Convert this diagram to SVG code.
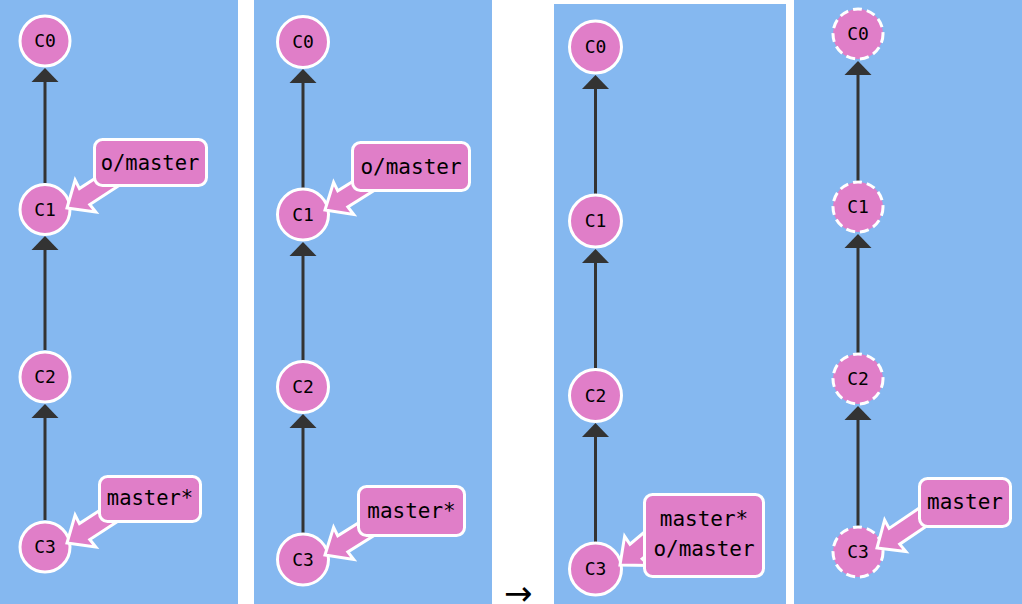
<svg xmlns="http://www.w3.org/2000/svg" xmlns:xlink="http://www.w3.org/1999/xlink" width="1022" height="604" viewBox="0 0 1022 604">
<style>
.panel{fill:#85b8f0}
.node{fill:#e07ec8;stroke:#fff;stroke-width:3}
.ghost{fill:#e07ec8;stroke:#fff;stroke-width:3;stroke-dasharray:9 5}
.nt{font-family:"DejaVu Sans Mono","Liberation Mono",monospace;font-size:18px;fill:#000;text-anchor:middle}
.edge{stroke:#333;stroke-width:3;fill:none}
.head{fill:#333}
.box{fill:#e07ec8;stroke:#fff;stroke-width:3}
.tag{fill:#e07ec8;stroke:#fff;stroke-width:3;stroke-linejoin:miter}
.lt{font-family:"DejaVu Sans Mono","Liberation Mono",monospace;font-size:21px;fill:#000;text-anchor:middle}
.arr{font-family:"DejaVu Sans","Liberation Sans",sans-serif;font-size:34px;fill:#000}
</style>
<defs>
<path id="tagarrow" d="M0,0 L22,-19 L21,-9.5 L75,-9.5 L75,9.5 L21,9.5 L22,19 Z"/>
<path id="ah" d="M0,0 L13.5,14 L-13.5,14 Z"/>
</defs>

<g id="backgrounds">
<rect class="panel" x="0" y="0" width="238" height="604"/>
<rect class="panel" x="254" y="0" width="238" height="604"/>
<rect class="panel" x="554" y="4" width="232" height="600"/>
<rect class="panel" x="794" y="0" width="228" height="604"/>
</g>
<text class="arr" x="504" y="605">→</text>

<g id="connectors">
<!-- panel 1 -->
<line class="edge" x1="45" y1="520" x2="45" y2="410"/>
<use xlink:href="#ah" href="#ah" class="head" transform="translate(45,404)"/>
<line class="edge" x1="45" y1="350" x2="45" y2="242"/>
<use xlink:href="#ah" href="#ah" class="head" transform="translate(45,236)"/>
<line class="edge" x1="45" y1="183" x2="45" y2="74"/>
<use xlink:href="#ah" href="#ah" class="head" transform="translate(45,68)"/>
<!-- panel 2 -->
<line class="edge" x1="303" y1="533" x2="303" y2="420"/>
<use xlink:href="#ah" href="#ah" class="head" transform="translate(303,414)"/>
<line class="edge" x1="303" y1="361" x2="303" y2="248"/>
<use xlink:href="#ah" href="#ah" class="head" transform="translate(303,242)"/>
<line class="edge" x1="303" y1="188" x2="303" y2="75"/>
<use xlink:href="#ah" href="#ah" class="head" transform="translate(303,69)"/>
<!-- panel 3 -->
<line class="edge" x1="595.5" y1="542" x2="595.5" y2="429"/>
<use xlink:href="#ah" href="#ah" class="head" transform="translate(595.5,423)"/>
<line class="edge" x1="595.5" y1="368" x2="595.5" y2="255"/>
<use xlink:href="#ah" href="#ah" class="head" transform="translate(595.5,249)"/>
<line class="edge" x1="595.5" y1="194" x2="595.5" y2="81"/>
<use xlink:href="#ah" href="#ah" class="head" transform="translate(595.5,75)"/>
<!-- panel 4 -->
<line class="edge" x1="858" y1="526" x2="858" y2="412"/>
<use xlink:href="#ah" href="#ah" class="head" transform="translate(858,406)"/>
<line class="edge" x1="858" y1="353" x2="858" y2="240"/>
<use xlink:href="#ah" href="#ah" class="head" transform="translate(858,234)"/>
<line class="edge" x1="858" y1="181" x2="858" y2="67"/>
<use xlink:href="#ah" href="#ah" class="head" transform="translate(858,61)"/>
</g>

<!-- panel 1 nodes -->
<g id="p1-C0"><circle class="node" cx="45" cy="41" r="25"/><text class="nt" x="45" y="47">C0</text></g>
<g id="p1-C1"><circle class="node" cx="45" cy="209.5" r="25"/><text class="nt" x="45" y="215.5">C1</text></g>
<g id="p1-C2"><circle class="node" cx="45" cy="377" r="25"/><text class="nt" x="45" y="383">C2</text></g>
<g id="p1-C3"><circle class="node" cx="45" cy="547" r="25"/><text class="nt" x="45" y="553">C3</text></g>
<g id="p1-omaster">
<use xlink:href="#tagarrow" href="#tagarrow" class="tag" transform="translate(67,208) rotate(-33)"/>
<rect class="box" x="94.5" y="139.5" width="112" height="46" rx="8"/>
<text class="lt" x="150" y="170" style="font-size:20.5px">o/master</text>
</g>
<g id="p1-master">
<use xlink:href="#tagarrow" href="#tagarrow" class="tag" transform="translate(67,543) rotate(-33)"/>
<rect class="box" x="99.5" y="476.5" width="101" height="45" rx="8"/>
<text class="lt" x="150" y="505" style="font-size:20.5px">master*</text>
</g>

<!-- panel 2 nodes -->
<g id="p2-C0"><circle class="node" cx="303" cy="42" r="25.5"/><text class="nt" x="303" y="48">C0</text></g>
<g id="p2-C1"><circle class="node" cx="303" cy="214.5" r="25.5"/><text class="nt" x="303" y="220.5">C1</text></g>
<g id="p2-C2"><circle class="node" cx="303" cy="387" r="25.5"/><text class="nt" x="303" y="393">C2</text></g>
<g id="p2-C3"><circle class="node" cx="303" cy="559.5" r="25.5"/><text class="nt" x="303" y="565.5">C3</text></g>
<g id="p2-omaster">
<use xlink:href="#tagarrow" href="#tagarrow" class="tag" transform="translate(325,210) rotate(-32)"/>
<rect class="box" x="352.5" y="142.5" width="117" height="48" rx="8"/>
<text class="lt" x="411" y="174">o/master</text>
</g>
<g id="p2-master">
<use xlink:href="#tagarrow" href="#tagarrow" class="tag" transform="translate(325,555) rotate(-32)"/>
<rect class="box" x="358.5" y="486.5" width="106" height="49" rx="8"/>
<text class="lt" x="411.5" y="518">master*</text>
</g>

<!-- panel 3 nodes -->
<g id="p3-C0"><circle class="node" cx="595.5" cy="47" r="26"/><text class="nt" x="595.5" y="53">C0</text></g>
<g id="p3-C1"><circle class="node" cx="595.5" cy="221" r="26"/><text class="nt" x="595.5" y="227">C1</text></g>
<g id="p3-C2"><circle class="node" cx="595.5" cy="395.5" r="26"/><text class="nt" x="595.5" y="401.5">C2</text></g>
<g id="p3-C3"><circle class="node" cx="595.5" cy="569" r="26"/><text class="nt" x="595.5" y="575">C3</text></g>
<g id="p3-labels">
<use xlink:href="#tagarrow" href="#tagarrow" class="tag" transform="translate(620,565) rotate(-40)"/>
<rect class="box" x="644.5" y="494.5" width="119" height="82" rx="8"/>
<text class="lt" x="704" y="526">master*</text>
<text class="lt" x="704" y="556">o/master</text>
</g>

<!-- panel 4 nodes -->
<g id="p4-C0"><circle class="ghost" cx="858" cy="34" r="25"/><text class="nt" x="858" y="40">C0</text></g>
<g id="p4-C1"><circle class="ghost" cx="858" cy="207" r="25"/><text class="nt" x="858" y="213">C1</text></g>
<g id="p4-C2"><circle class="ghost" cx="858" cy="379" r="25"/><text class="nt" x="858" y="385">C2</text></g>
<g id="p4-C3"><circle class="ghost" cx="858" cy="552" r="25"/><text class="nt" x="858" y="558">C3</text></g>
<g id="p4-master">
<use xlink:href="#tagarrow" href="#tagarrow" class="tag" transform="translate(877,548) rotate(-34)"/>
<rect class="box" x="919.5" y="478.5" width="91" height="48" rx="8"/>
<text class="lt" x="965" y="509">master</text>
</g>
</svg>
